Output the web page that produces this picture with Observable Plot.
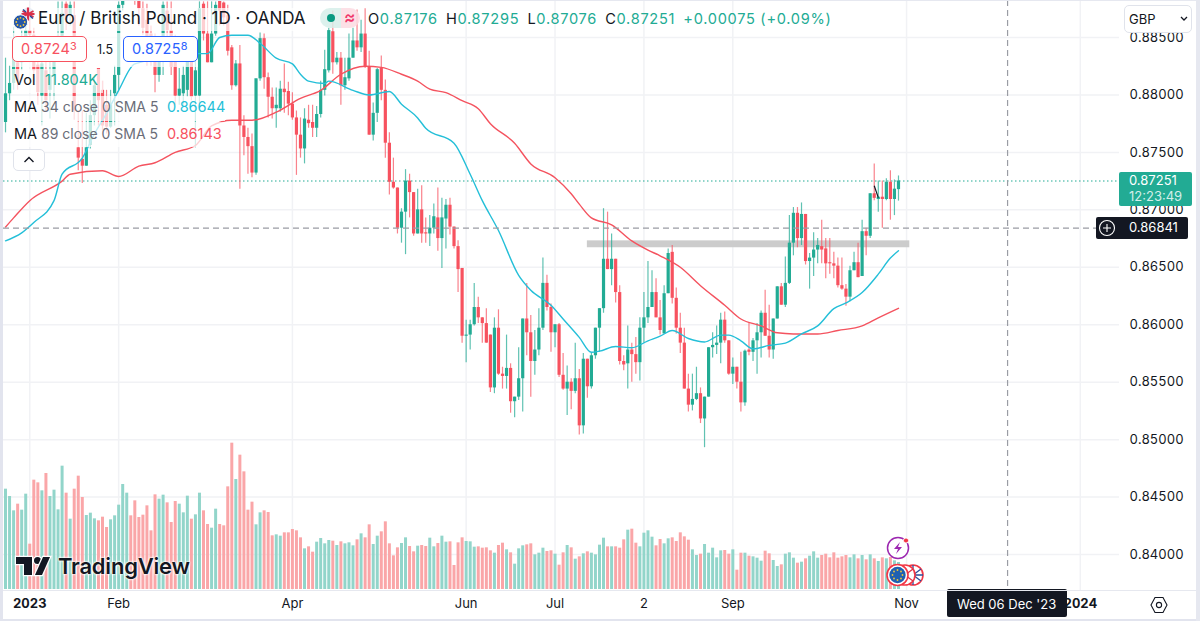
<!DOCTYPE html>
<html>
<head>
<meta charset="utf-8">
<script src="https://cdn.jsdelivr.net/npm/d3@7"></script>
<script src="https://cdn.jsdelivr.net/npm/@observablehq/plot@0.6"></script>
<style>
html,body{margin:0;padding:0;background:#fff;}
#stage{position:relative;width:1200px;height:621px;overflow:hidden;font-family:Inter,"Noto Sans",sans-serif;color:#131722;}
#stage > svg, #stage .layer{position:absolute;left:0;top:0;}
.t{position:absolute;white-space:nowrap;line-height:1;}
.band{position:absolute;background:rgba(255,255,255,.72);}
.box{position:absolute;background:#fff;border-radius:5px;box-sizing:border-box;}
sup{font-size:.75em;line-height:0;vertical-align:.35em;}
</style>
</head>
<body>
<div id="stage"></div>
<script>
// Daily EUR/GBP candles, in units of 0.0001
const opens = [
8776,8801,8810,8828,8828,8843,8856,8852,8826,8799,
8821,8804,8817,8837,8851,8879,8870,8869,8754,8744,
8738,8756,8782,8823,8804,8791,8772,8801,8817,8878,
8899,8908,8891,8886,8875,8865,8853,8838,8817,8830,
8873,8856,8847,8799,8801,8804,8838,8799,8799,8879,
8853,8828,8853,8891,8880,8869,8841,8808,8827,8773,
8763,8755,8732,8814,8849,8815,8798,8788,8788,8805,
8803,8792,8780,8765,8753,8778,8776,8771,8783,8804,
8821,8855,8828,8832,8808,8814,8832,8847,8841,8853,
8824,8765,8784,8823,8804,8758,8724,8719,8684,8698,
8725,8715,8679,8700,8680,8679,8684,8693,8675,8692,
8704,8685,8668,8649,8590,8591,8600,8615,8606,8601,
8591,8545,8597,8557,8555,8562,8533,8537,8553,8605,
8593,8568,8578,8597,8636,8615,8593,8600,8556,8544,
8550,8542,8553,8512,8570,8546,8573,8597,8614,8657,
8648,8657,8628,8568,8566,8578,8574,8567,8597,8606,
8615,8628,8606,8592,8627,8663,8623,8597,8584,8544,
8530,8535,8540,8518,8537,8580,8582,8584,8604,8586,
8557,8563,8550,8532,8578,8576,8586,8593,8610,8590,
8578,8605,8633,8617,8636,8671,8697,8675,8696,8655,
8658,8665,8668,8666,8654,8653,8651,8634,8631,8624,
8647,8654,8642,8681,8677,8714,8709,8711,8709,8724,
8709,8717.6];
const closes = [
8801,8810,8841,8812,8843,8856,8852,8821,8802,8827,
8795,8817,8837,8851,8871,8865,8878,8786,8745,8738,
8754,8782,8808,8795,8773,8772,8791,8817,8878,8899,
8908,8891,8884,8875,8858,8838,8838,8817,8830,8878,
8856,8824,8799,8805,8817,8838,8798,8821,8875,8853,
8828,8853,8878,8873,8867,8838,8808,8827,8773,8763,
8755,8732,8814,8849,8815,8798,8788,8791,8805,8802,
8792,8780,8765,8753,8779,8775,8771,8783,8804,8822,
8856,8828,8832,8808,8815,8832,8847,8841,8853,8824,
8765,8784,8822,8804,8758,8724,8719,8684,8698,8725,
8715,8679,8700,8679,8679,8684,8694,8675,8693,8704,
8685,8668,8648,8590,8591,8600,8615,8606,8601,8584,
8545,8597,8557,8555,8562,8533,8537,8553,8605,8593,
8568,8578,8597,8636,8615,8593,8600,8556,8544,8550,
8542,8553,8512,8570,8546,8573,8597,8614,8657,8648,
8657,8628,8568,8565,8578,8574,8567,8597,8606,8615,
8628,8606,8595,8627,8662,8623,8597,8584,8544,8530,
8535,8540,8518,8537,8580,8582,8584,8604,8586,8557,
8563,8550,8532,8577,8576,8586,8593,8610,8590,8578,
8605,8633,8617,8636,8671,8697,8675,8696,8655,8658,
8665,8669,8665,8653,8653,8651,8634,8631,8624,8647,
8654,8641,8681,8677,8714,8710,8711,8709,8724,8709,
8718,8725.1];
const highs = [
8832,8825,8859,8838,8856,8865,8865,8858,8834,8830,
8834,8830,8847,8881,8881,8881,8881,8881,8786,8786,
8784,8795,8817,8823,8812,8804,8804,8825,8881,8904,
8912,8912,8900,8892,8881,8879,8860,8853,8843,8881,
8881,8881,8852,8823,8825,8847,8843,8830,8881,8881,
8881,8881,8881,8895,8881,8878,8843,8830,8843,8782,
8771,8766,8814,8854,8853,8819,8806,8806,8812,8827,
8811,8802,8786,8780,8788,8791,8791,8790,8812,8839,
8858,8873,8837,8837,8832,8853,8858,8874,8865,8875,
8838,8793,8823,8834,8813,8767,8745,8719,8701,8735,
8731,8715,8718,8721,8693,8695,8705,8719,8710,8709,
8710,8685,8673,8649,8604,8604,8636,8624,8606,8614,
8591,8606,8613,8563,8591,8566,8537,8580,8605,8636,
8608,8595,8614,8658,8643,8618,8600,8601,8575,8564,
8553,8584,8561,8575,8570,8575,8597,8614,8701,8698,
8679,8657,8634,8573,8599,8584,8589,8606,8628,8655,
8647,8640,8621,8634,8666,8669,8632,8610,8597,8557,
8557,8563,8545,8537,8580,8593,8599,8610,8611,8586,
8571,8563,8576,8578,8602,8588,8601,8612,8630,8617,
8605,8633,8636,8659,8695,8702,8702,8706,8696,8662,
8680,8675,8691,8675,8675,8663,8658,8658,8635,8651,
8663,8671,8691,8684,8714,8740,8725,8725,8727,8734,
8726,8729.5];
const lows = [
8767,8795,8804,8804,8821,8834,8845,8808,8791,8773,
8786,8779,8795,8830,8834,8856,8860,8778,8734,8723,
8738,8753,8773,8773,8769,8766,8771,8773,8804,8873,
8895,8886,8878,8860,8852,8825,8825,8802,8811,8817,
8834,8817,8791,8791,8791,8798,8795,8754,8786,8847,
8828,8828,8851,8860,8860,8834,8804,8807,8718,8747,
8731,8728,8730,8812,8805,8780,8779,8771,8785,8784,
8782,8778,8730,8745,8740,8771,8763,8763,8780,8799,
8819,8818,8826,8791,8804,8812,8832,8838,8837,8823,
8765,8760,8776,8795,8745,8713,8718,8679,8671,8661,
8693,8677,8679,8671,8671,8668,8679,8664,8649,8666,
8678,8666,8628,8584,8567,8578,8599,8601,8584,8584,
8541,8540,8556,8544,8544,8523,8519,8534,8524,8573,
8537,8556,8573,8595,8612,8576,8580,8554,8543,8521,
8526,8540,8504,8505,8536,8544,8570,8576,8610,8648,
8634,8619,8565,8560,8544,8550,8557,8551,8584,8601,
8615,8606,8591,8592,8627,8618,8592,8575,8544,8524,
8525,8534,8514,8493,8537,8571,8574,8566,8584,8556,
8548,8544,8524,8529,8573,8568,8557,8571,8590,8571,
8570,8605,8617,8615,8635,8660,8667,8669,8652,8631,
8642,8653,8653,8640,8644,8640,8632,8630,8616,8620,
8647,8641,8642,8660,8675,8708,8698,8684,8708,8691,
8695,8707.6];
// Relative volume of each bar
const volumes = [
301,279,236,256,238,286,136,328,320,296,
348,279,298,239,370,289,211,301,340,276,
222,229,212,206,217,186,209,221,253,315,
289,221,266,216,223,251,176,284,271,283,
260,201,264,256,230,280,211,224,289,236,
195,184,241,195,191,308,439,330,403,353,
238,262,194,230,236,231,161,164,160,170,
170,180,176,155,122,128,112,142,153,137,
147,145,132,143,137,140,131,149,167,155,
194,135,160,173,203,137,101,125,138,155,
129,113,130,132,129,154,128,138,160,142,
143,72,140,155,144,143,127,128,124,125,
116,109,132,139,119,110,76,122,131,134,
137,104,109,124,114,116,106,73,110,132,
125,91,98,107,113,109,104,133,154,128,
128,128,124,149,178,181,139,128,169,176,
157,131,150,137,152,155,144,170,158,148,
119,102,106,135,109,124,95,116,117,106,
119,58,109,109,100,98,94,85,115,107,
87,69,74,106,110,94,79,82,92,100,
113,94,102,106,95,110,94,98,102,95,
104,92,102,89,104,92,84,95,92,96,
86,81];
// Moving averages, read at the bars listed in the index arrays
const ma89Bars = [0,2,6,14,16,24,28,33,37,42,47,51,56,61,67,73,78,83,89,93,98,102,105,109,113,117,120,126,130,136,140,142,145,150,155,159,162,167,172,178,182,187,191,195,201,206,212,216,221];
const ma89Vals = [8685,8693,8708,8725,8731,8734,8729,8738,8741,8750,8756,8773,8778,8778,8785,8797,8804,8818,8825,8824,8818,8812,8805,8802,8795,8788,8775,8758,8740,8728,8714,8705,8693,8687,8673,8665,8660,8650,8634,8617,8605,8599,8593,8592,8592,8595,8599,8606,8614.3];
const ma34Bars = [0,4,7,12,14,19,22,25,28,32,48,50,53,56,60,63,67,71,73,75,79,80,86,90,95,98,102,104,111,115,118,122,127,130,135,138,142,145,147,151,155,159,162,165,169,173,177,179,182,185,189,193,197,201,205,208,212,216,219,221];
const ma34Vals = [8673,8680,8689,8708,8731,8745,8766,8784,8804,8827,8836,8836,8850,8852,8852,8845,8832,8827,8818,8812,8810,8812,8804,8800,8803,8792,8780,8771,8758,8731,8708,8682,8643,8630,8617,8605,8589,8576,8577,8581,8580,8586,8590,8595,8588,8585,8591,8591,8586,8579,8582,8584,8592,8599,8614,8619,8628,8644,8658,8664.4];
// Axis ticks
const priceTicks = [8850,8800,8750,8700,8650,8600,8550,8500,8450,8400];
const monthTickBars = [28,71,114,136,158,180,223];
const monthTickLabels = ["Feb","Apr","Jun","Jul","2","Sep","Nov"];
const yearTickBars = [6,266];
const yearTickLabels = ["2023","2024"];
// Annotations
const lastPrice = 8725.1;
const crossPrice = 8684.1;
const crossBar = 248;
const zoneBars = [144, 223.8];
const zonePrices = [8667, 8673];
const cursorBars = [215, 216];
const cursorPrices = [8721, 8710.6];

const TEAL = "#22ab94", RED = "#f7525f";
const rows = opens.map((o, i) => ({i, o: o/1e4, c: closes[i]/1e4, h: highs[i]/1e4, l: lows[i]/1e4, v: volumes[i]}));
const up = rows.filter(d => d.c >= d.o), down = rows.filter(d => d.c < d.o);
const ma34 = ma34Bars.map((b, k) => ({i: b, p: ma34Vals[k]/1e4}));
const ma89 = ma89Bars.map((b, k) => ({i: b, p: ma89Vals[k]/1e4}));

const W = 1200, H = 621;
const xScale = {type: "linear", domain: [-0.5, 275.7], range: [3, 1119]};
const allTicks = monthTickBars.concat(yearTickBars);
const gridColor = "#f1f2f5";

const volumePlot = Plot.plot({
  width: W, height: H, marginTop: 0, marginBottom: 32, marginLeft: 0, marginRight: 0,
  style: {background: "transparent"},
  x: {...xScale, axis: null},
  y: {domain: [0, 1767], axis: null},
  marks: [
    Plot.ruleX(up, {x: "i", y1: 0, y2: "v", stroke: "#92d5ca", strokeWidth: 3}),
    Plot.ruleX(down, {x: "i", y1: 0, y2: "v", stroke: "#faa6a8", strokeWidth: 3})
  ]
});

const labelOf = t => {
  const m = monthTickBars.indexOf(t);
  return m >= 0 ? monthTickLabels[m] : yearTickLabels[yearTickBars.indexOf(t)];
};
const axisFont = "Inter, 'Noto Sans', sans-serif";
const mainPlot = Plot.plot({
  width: W, height: H, marginTop: 0, marginBottom: 31, marginLeft: 3, marginRight: 81,
  style: {background: "transparent", fontFamily: axisFont},
  x: xScale,
  y: {domain: [0.83687, 0.88822]},
  marks: [
    Plot.ruleY(priceTicks.map(p => p/1e4), {stroke: gridColor, strokeWidth: 1.5}),
    Plot.ruleX(allTicks, {stroke: gridColor, strokeWidth: 1.5}),
    Plot.axisY(priceTicks.map(p => p/1e4), {anchor: "right", tickSize: 0, tickPadding: 10, tickFormat: d3.format(".5f"), fontSize: 13, fill: "#131722", label: null}),
    Plot.axisX(monthTickBars, {anchor: "bottom", tickSize: 0, tickPadding: 8, tickFormat: labelOf, fontSize: 13, fill: "#131722", label: null}),
    Plot.axisX(yearTickBars, {anchor: "bottom", tickSize: 0, tickPadding: 8, tickFormat: labelOf, fontSize: 13, fontWeight: 700, fill: "#131722", label: null}),
    Plot.rect([0], {x1: zoneBars[0], x2: zoneBars[1], y1: zonePrices[0]/1e4, y2: zonePrices[1]/1e4, fill: "#cccccc"}),
    Plot.ruleY([lastPrice/1e4], {stroke: TEAL, strokeWidth: 1, strokeDasharray: "1.5,2.5"}),
    Plot.ruleX(up, {x: "i", y1: "l", y2: "h", stroke: TEAL, strokeOpacity: .72, strokeWidth: 1.2, clip: true}),
    Plot.ruleX(down, {x: "i", y1: "l", y2: "h", stroke: RED, strokeOpacity: .72, strokeWidth: 1.2, clip: true}),
    Plot.ruleX(up, {x: "i", y1: "o", y2: "c", stroke: TEAL, strokeWidth: 3.2, clip: true}),
    Plot.ruleX(down, {x: "i", y1: "o", y2: "c", stroke: RED, strokeWidth: 3.2, clip: true}),
    Plot.line(ma89, {x: "i", y: "p", stroke: "#f4535f", strokeWidth: 1.4, curve: "monotone-x"}),
    Plot.line(ma34, {x: "i", y: "p", stroke: "#24bfd8", strokeWidth: 1.4, curve: "monotone-x"}),
    Plot.link([0], {x1: cursorBars[0], x2: cursorBars[1], y1: cursorPrices[0]/1e4, y2: cursorPrices[1]/1e4, stroke: "#131722", strokeWidth: 1.2}),
    Plot.ruleY([crossPrice/1e4], {x1: -0.5, x2: 270.5, stroke: "#9a9ca4", strokeWidth: 1.2, strokeDasharray: "6,4"}),
    Plot.ruleX([crossBar], {stroke: "#9a9ca4", strokeWidth: 1.2, strokeDasharray: "6,4"})
  ]
});

const stage = document.getElementById("stage");
stage.append(mainPlot, volumePlot);

const overlay = document.createElement("div");
overlay.className = "layer";
overlay.style.width = "1200px"; overlay.style.height = "621px";
overlay.innerHTML = `
<div class="band" style="left:12px;top:8px;width:293px;height:23px"></div>
<div class="band" style="left:12px;top:33px;width:186px;height:34px"></div>
<div class="band" style="left:12px;top:69px;width:91px;height:24px"></div>
<div class="band" style="left:12px;top:96px;width:213px;height:25px"></div>
<div class="band" style="left:12px;top:122px;width:213px;height:25px"></div>

<svg style="position:absolute;left:12px;top:7px" width="24" height="24" viewBox="0 0 24 24">
  <circle cx="16" cy="7" r="6.5" fill="#e9eef6"/>
  <path d="M10.5 4L21.5 10M21.5 4L10.5 10" stroke="#d9304a" stroke-width="1.8"/>
  <path d="M16 .5V13.5M9.5 7H22.5" stroke="#d9304a" stroke-width="2.2"/>
  <path d="M11 2.5L14 5M18 9L21 11.5" stroke="#2a4c9a" stroke-width="1.5"/>
  <circle cx="8.5" cy="15" r="7.2" fill="#2457a8" stroke="#fff" stroke-width="1"/>
  <g fill="#f0c63a"><circle cx="8.5" cy="10.8" r=".9"/><circle cx="11.5" cy="12" r=".9"/><circle cx="12.7" cy="15" r=".9"/><circle cx="11.5" cy="18" r=".9"/><circle cx="8.5" cy="19.2" r=".9"/><circle cx="5.5" cy="18" r=".9"/><circle cx="4.3" cy="15" r=".9"/><circle cx="5.5" cy="12" r=".9"/></g>
</svg>
<div class="t" style="left:38px;top:10px;font-size:17px">Euro / British Pound · 1D · OANDA</div>

<div style="position:absolute;left:320px;top:8px;width:21px;height:20px;background:rgba(214,239,234,.85);border-radius:10px 0 0 10px"></div>
<div style="position:absolute;left:341px;top:8px;width:19px;height:20px;background:rgba(252,218,226,.85);border-radius:0 10px 10px 0"></div>
<div style="position:absolute;left:327px;top:14px;width:8px;height:8px;border-radius:50%;background:#089981"></div>
<div class="t" style="left:344px;top:9px;font-size:17px;color:#f0386b;font-weight:600">≈</div>

<div class="t" style="left:368px;top:12px;font-size:14.6px;letter-spacing:.7px;color:${TEAL}"><span style="color:#131722">O</span>0.87176 <span style="color:#131722">&thinsp;H</span>0.87295 <span style="color:#131722">&thinsp;L</span>0.87076 <span style="color:#131722">&thinsp;C</span>0.87251 &thinsp;+0.00075 (+0.09%)</div>

<div class="box" style="left:12px;top:36px;width:75px;height:26px;border:1.5px solid #f7525f"></div>
<div class="t" style="left:21px;top:42px;font-size:14.5px;color:#f7525f;letter-spacing:.2px">0.8724<sup>3</sup></div>
<div class="t" style="left:97px;top:44px;font-size:12.5px;color:#131722">1.5</div>
<div class="box" style="left:123px;top:36px;width:75px;height:26px;border:1.5px solid #2962ff"></div>
<div class="t" style="left:132px;top:42px;font-size:14.5px;color:#2962ff;letter-spacing:.2px">0.8725<sup>8</sup></div>

<div class="t" style="left:14px;top:73px;font-size:14.5px">Vol</div>
<div class="t" style="left:45px;top:73px;font-size:14.5px;color:${TEAL}">11.804K</div>
<div class="t" style="left:14px;top:100px;font-size:14.5px">MA</div>
<div class="t" style="left:41px;top:100px;font-size:14px;color:#6a6d78">34 close 0 SMA 5</div>
<div class="t" style="left:167px;top:100px;font-size:14.5px;color:#24bfd8">0.86644</div>
<div class="t" style="left:14px;top:127px;font-size:14.5px">MA</div>
<div class="t" style="left:41px;top:127px;font-size:14px;color:#6a6d78">89 close 0 SMA 5</div>
<div class="t" style="left:167px;top:127px;font-size:14.5px;color:#f7525f">0.86143</div>
<div class="box" style="left:13px;top:149px;width:32px;height:22px;border:1px solid #e0e3eb">
  <svg width="30" height="20" style="display:block"><path d="M10.5 12L15 7.5L19.5 12" fill="none" stroke="#131722" stroke-width="1.4"/></svg>
</div>

<div class="box" style="left:1124px;top:5px;width:68px;height:28px;border:1px solid #e0e3eb"></div>
<div class="t" style="left:1129px;top:13px;font-size:13px">GBP</div>
<svg style="position:absolute;left:1179px;top:15px" width="10" height="8"><path d="M2 2L5 5L8 2" fill="none" stroke="#131722" stroke-width="1.3"/></svg>

<div style="position:absolute;left:1119px;top:172px;width:73px;height:34px;background:${TEAL};border-radius:2px"></div>
<div class="t" style="left:1129px;top:174px;font-size:13px;color:#fff">0.87251</div>
<div class="t" style="left:1129px;top:190px;font-size:13px;color:#d4efe9">12:23:49</div>

<div style="position:absolute;left:1096px;top:217px;width:22.5px;height:22px;background:#131722;border-radius:2px 0 0 2px"></div>
<svg style="position:absolute;left:1096px;top:217px" width="23" height="22"><circle cx="11" cy="11" r="7.5" fill="none" stroke="#fff" stroke-width="1.1"/><path d="M11 7V15M7 11H15" stroke="#fff" stroke-width="1.1"/></svg>
<div style="position:absolute;left:1119px;top:217px;width:69px;height:22px;background:#131722;border-radius:0 2px 2px 0"></div>
<div class="t" style="left:1129px;top:221px;font-size:13px;color:#fff">0.86841</div>

<svg style="position:absolute;left:14px;top:555px" width="40" height="23" viewBox="0 0 40 23">
  <g stroke="#fff" stroke-width="2.5" paint-order="stroke" fill="#131722">
    <path d="M2 2H18V20H10V9H2Z"/><circle cx="23.5" cy="5.5" r="3.5"/><path d="M29 2H36L28 20H21Z"/>
  </g>
</svg>
<div class="t" style="left:58px;top:555px;font-size:22px;font-weight:600;letter-spacing:-.2px;color:#131722;text-shadow:0 0 2px #fff,0 0 2px #fff,0 0 3px #fff">TradingView</div>

<svg style="position:absolute;left:884px;top:534px" width="42" height="56" viewBox="0 0 42 56">
  <circle cx="14" cy="14" r="10.5" fill="#fff" stroke="#9c27b0" stroke-width="1.5"/>
  <path d="M16 8L10 15H14L12 20L18 13H14Z" fill="#9c27b0"/>
  <circle cx="22" cy="6.5" r="2.6" fill="#f23645" stroke="#fff"/>
  <circle cx="29" cy="41" r="10" fill="#fff" stroke="#f23645" stroke-width="1.6"/>
  <path d="M21 35L37 47M37 35L21 47M29 31V51M19 41H39" stroke="#2a4c9a" stroke-width="1.3"/>
  <circle cx="21" cy="41" r="10" fill="#fff" stroke="#f23645" stroke-width="1.6"/>
  <path d="M13 35L29 47M29 35L13 47" stroke="#d9304a" stroke-width="1.2"/>
  <circle cx="13.5" cy="41" r="10.5" fill="#fff" stroke="#f23645" stroke-width="1.6"/>
  <circle cx="13.5" cy="41" r="8.2" fill="#2060b0"/>
  <g fill="#f0c63a"><circle cx="13.5" cy="36" r=".9"/><circle cx="17" cy="37.5" r=".9"/><circle cx="18.5" cy="41" r=".9"/><circle cx="17" cy="44.5" r=".9"/><circle cx="13.5" cy="46" r=".9"/><circle cx="10" cy="44.5" r=".9"/><circle cx="8.5" cy="41" r=".9"/><circle cx="10" cy="37.5" r=".9"/></g>
</svg>

<div style="position:absolute;left:947px;top:589px;width:120px;height:28px;background:#131722;border-radius:2px"></div>
<div class="t" style="left:957px;top:598px;font-size:13px;color:#fff">Wed 06 Dec '23</div>
<svg style="position:absolute;left:1149px;top:595px" width="20" height="20" viewBox="0 0 20 20"><path d="M6 2.5H14L18 10L14 17.5H6L2 10Z" fill="none" stroke="#131722" stroke-width="1.1"/><circle cx="10" cy="10" r="2.6" fill="none" stroke="#131722" stroke-width="1.1"/></svg>

<div style="position:absolute;left:3px;top:589.5px;width:1193px;height:1px;background:#e6e8ef"></div>
<div style="position:absolute;left:0;top:0;width:3px;height:621px;background:#e2e4ee"></div>
<div style="position:absolute;left:0;top:0;width:1200px;height:1px;background:#e6e8f0"></div>
<div style="position:absolute;left:0;top:619px;width:1200px;height:2px;background:#e2e4ee"></div>
<div style="position:absolute;left:1196px;top:0;width:4px;height:621px;background:#e6e8f0"></div>
`;
stage.append(overlay);
</script>
</body>
</html>
